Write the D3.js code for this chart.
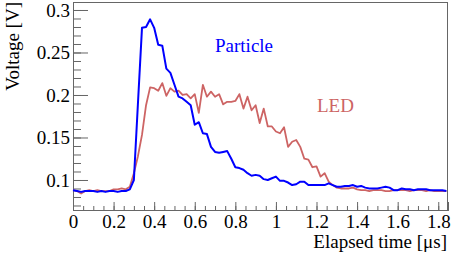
<!DOCTYPE html>
<html>
<head>
<meta charset="utf-8">
<script src="https://cdn.jsdelivr.net/npm/d3@7"></script>
<style>
  body { margin: 0; background: #fff; }
  svg { display: block; }
</style>
</head>
<body>
<script>
// Sample times in microseconds, one every 0.02
const times = d3.range(93).map(i => +(i * 0.02).toFixed(2));

// Particle pulse (blue)
const particleVolts = [
  0.088, 0.087, 0.086, 0.087, 0.087, 0.087, 0.086, 0.087, 0.086, 0.087,
  0.087, 0.086, 0.087, 0.087, 0.089, 0.100, 0.190, 0.279, 0.280, 0.289,
  0.279, 0.259, 0.258, 0.231, 0.226, 0.212, 0.198, 0.196, 0.192, 0.188,
  0.165, 0.168, 0.155, 0.154, 0.139, 0.133, 0.132, 0.133, 0.134, 0.125,
  0.115, 0.114, 0.112, 0.108, 0.105, 0.106, 0.105, 0.101, 0.100, 0.102,
  0.104, 0.099, 0.099, 0.097, 0.094, 0.095, 0.098, 0.098, 0.094, 0.094,
  0.094, 0.094, 0.094, 0.096, 0.094, 0.092, 0.092, 0.093, 0.093, 0.094,
  0.092, 0.093, 0.091, 0.090, 0.090, 0.090, 0.091, 0.092, 0.091, 0.088,
  0.088, 0.090, 0.089, 0.089, 0.088, 0.089, 0.089, 0.089, 0.088, 0.088,
  0.088, 0.088, 0.087
];

// LED pulse (red)
const ledVolts = [
  0.088, 0.087, 0.084, 0.087, 0.088, 0.087, 0.088, 0.087, 0.087, 0.087,
  0.089, 0.089, 0.090, 0.089, 0.092, 0.108, 0.128, 0.153, 0.188, 0.209,
  0.208, 0.205, 0.214, 0.199, 0.208, 0.204, 0.205, 0.200, 0.201, 0.196,
  0.201, 0.179, 0.212, 0.198, 0.204, 0.198, 0.201, 0.189, 0.192, 0.192,
  0.193, 0.201, 0.184, 0.198, 0.182, 0.188, 0.167, 0.184, 0.163, 0.163,
  0.157, 0.155, 0.162, 0.139, 0.145, 0.147, 0.139, 0.125, 0.124, 0.115,
  0.116, 0.104, 0.108, 0.098, 0.094, 0.091, 0.090, 0.090, 0.090, 0.091,
  0.089, 0.088, 0.088, 0.087, 0.088, 0.088, 0.088, 0.087, 0.087, 0.088,
  0.088, 0.088, 0.088, 0.087, 0.088, 0.088, 0.088, 0.087, 0.088, 0.087,
  0.087, 0.087, 0.087
];

const xTickValues = [0, 0.2, 0.4, 0.6, 0.8, 1, 1.2, 1.4, 1.6, 1.8];
const yTickValues = [0.1, 0.15, 0.2, 0.25, 0.3];

const W = 457, H = 254;
const margin = {top: 2, right: 9, bottom: 44, left: 73};
const width = W - margin.left - margin.right,
      height = H - margin.top - margin.bottom;

const FONT = '"Liberation Serif", "Times New Roman", serif';
const AXIS_COLOR = "#666";
const BLUE = "#0000ff";
const RED = "#cd6464";

const svg = d3.select("body").append("svg")
  .attr("width", W)
  .attr("height", H)
  .append("g")
  .attr("transform", `translate(${margin.left},${margin.top})`);

const x = d3.scaleLinear().domain([0, 1.848]).range([0, width]);
const y = d3.scaleLinear().domain([0.0647, 0.3094]).range([height, 0]);

// frame: top and right edges
svg.append("line").attr("x1", 0).attr("x2", width).attr("y1", 0.5).attr("y2", 0.5)
  .attr("stroke", AXIS_COLOR);
svg.append("line").attr("x1", width - 0.5).attr("x2", width - 0.5).attr("y1", 0).attr("y2", height)
  .attr("stroke", AXIS_COLOR);

// minor ticks first, then the major ones with labels
const xMinor = d3.range(0, 1.85, 0.05).map(v => +v.toFixed(2));
const yMinor = d3.range(0.07, 0.305, 0.01).map(v => +v.toFixed(2));

const xMinorAxis = svg.append("g")
  .attr("transform", `translate(0,${height})`)
  .call(d3.axisTop(x).tickValues(xMinor).tickSize(4).tickFormat(""));
const xAxis = svg.append("g")
  .attr("transform", `translate(0,${height})`)
  .call(d3.axisTop(x).tickValues(xTickValues).tickSize(8).tickFormat(d3.format("~g")));

const yMinorAxis = svg.append("g")
  .call(d3.axisRight(y).tickValues(yMinor).tickSize(8).tickFormat(""));
const yAxis = svg.append("g")
  .call(d3.axisRight(y).tickValues(yTickValues).tickSize(15).tickFormat(d3.format("~g")));

[xMinorAxis, xAxis, yMinorAxis, yAxis].forEach(a => {
  a.attr("font-family", null);
  a.select(".domain").attr("stroke", AXIS_COLOR).attr("stroke-width", 1);
  a.selectAll(".tick line").attr("stroke", AXIS_COLOR);
});

// labels go outside the frame
xAxis.selectAll(".tick text")
  .attr("y", 18)
  .attr("dy", 0)
  .style("font-family", FONT)
  .style("font-size", "19px")
  .attr("fill", "#000");
yAxis.selectAll(".tick text")
  .attr("x", -3)
  .attr("dy", "0.34em")
  .attr("text-anchor", "end")
  .style("font-family", FONT)
  .style("font-size", "19px")
  .attr("fill", "#000");

// axis titles
svg.append("text")
  .attr("x", width - 1)
  .attr("y", 246)
  .attr("text-anchor", "end")
  .style("font-family", FONT)
  .style("font-size", "19px")
  .text("Elapsed time [\u03bcs]");

svg.append("text")
  .attr("transform", `translate(${19 - margin.left},0) rotate(-90)`)
  .attr("text-anchor", "end")
  .style("font-family", FONT)
  .style("font-size", "19px")
  .text("Voltage [V]");

// the two pulses
const line = d3.line()
  .x(d => x(d[0]))
  .y(d => y(d[1]));

svg.append("path")
  .datum(times.map((t, i) => [t, ledVolts[i]]))
  .attr("fill", "none")
  .attr("stroke", RED)
  .attr("stroke-width", 1.8)
  .attr("stroke-linejoin", "round")
  .attr("d", line);

svg.append("path")
  .datum(times.map((t, i) => [t, particleVolts[i]]))
  .attr("fill", "none")
  .attr("stroke", BLUE)
  .attr("stroke-width", 2)
  .attr("stroke-linejoin", "round")
  .attr("d", line);

// in-plot legend text
svg.append("text")
  .attr("x", 215 - margin.left)
  .attr("y", 52 - margin.top)
  .style("font-family", FONT)
  .style("font-size", "19px")
  .attr("fill", BLUE)
  .text("Particle");

svg.append("text")
  .attr("x", 317 - margin.left)
  .attr("y", 112 - margin.top)
  .style("font-family", FONT)
  .style("font-size", "19px")
  .attr("fill", RED)
  .text("LED");
</script>
</body>
</html>
